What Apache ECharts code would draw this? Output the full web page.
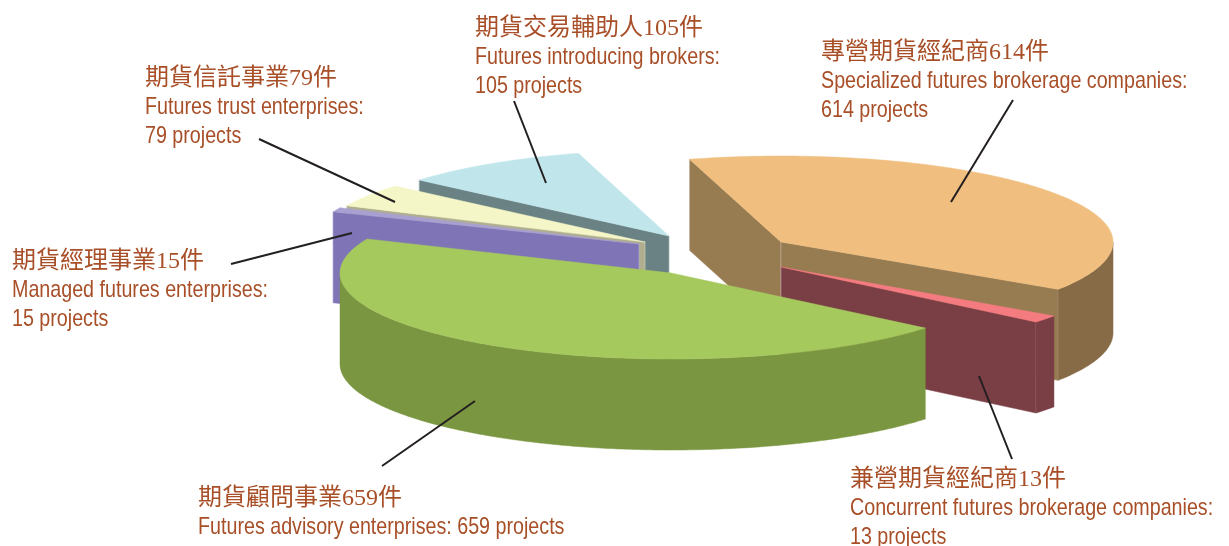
<!DOCTYPE html>
<html>
<head>
<meta charset="utf-8">
<style>html,body{margin:0;padding:0;background:#fff}#c{width:1229px;height:546px}</style>
<script src="https://cdn.jsdelivr.net/npm/echarts@6/dist/echarts.min.js"></script>
</head>
<body>
<div id="c"></div>
<script>
// ---- data ----
const categories = ['專營期貨經紀商', '兼營期貨經紀商', '期貨顧問事業', '期貨經理事業', '期貨信託事業', '期貨交易輔助人'];
const englishNames = [
  'Specialized futures brokerage companies:',
  'Concurrent futures brokerage companies:',
  'Futures advisory enterprises:',
  'Managed futures enterprises:',
  'Futures trust enterprises:',
  'Futures introducing brokers:'
];
const values = [614, 13, 659, 15, 79, 105];

// ---- styling / layout of the exploded 3D pie ----
const topColors  = ['#F0BE7E', '#F47C80', '#A6C95E', '#A8A0D0', '#F4F6C8', '#C0E6EC'];
const wallColors = ['#977B51', '#7A3F44', '#7B9640', '#7E74B6', '#B0AE8E', '#6A8284'];
const rimColors  = ['#866B46', '#7A3F44', '#7B9640', '#7E74B6', '#B0AE8E', '#6A8284'];
const apexX  = [781, 781, 671, 639, 645, 669];
const apexY  = [242, 267, 273, 244, 242, 236];
const radiusX = [332, 332, 331, 330, 329, 329];
const startDeg = [106, -34.7, -39.8, -202, -205, -220.6];
const sweepScale = [0.9365, 1.619, 1.0234, 0.824, 0.815, 1.312];
const drawOrder = [5, 4, 3, 0, 1, 2];
const radiusY = 86, depth = 91;
const labelX = [821, 850, 198, 12, 145, 475];
const labelY = [53, 480, 499, 262, 79, 29];
const leaderX = [[1013, 951], [1012, 979], [382, 475], [231, 352], [259, 395], [514, 546]];
const leaderY = [[100, 202], [459, 376], [466, 401], [264, 233], [139, 202], [101, 183]];
const textColor = '#A84F28';
const narrowScale = 0.82;
const latinShift = -1;
const cjkFont = '24px "Liberation Serif","Noto Sans CJK TC"';
const latinFont = '24px "Liberation Sans"';
const total = values.reduce((a, b) => a + b, 0);

function renderSlice(params, api) {
  const i = api.value(0), v = api.value(1);
  const s = startDeg[i], sweep = v / total * 360 * sweepScale[i], e = s - sweep;
  const cx = apexX[i], cy = apexY[i], a = radiusX[i];
  const pt = (deg, dz) => [cx + a * Math.cos(deg * Math.PI / 180), cy - radiusY * Math.sin(deg * Math.PI / 180) + (dz || 0)];
  const children = [];
  const poly = (points, fill) => children.push({ type: 'polygon', shape: { points }, style: { fill, stroke: fill, lineWidth: 0.5 } });
  const edge = (p) => children.push({ type: 'line', shape: { x1: p[0], y1: p[1], x2: p[0], y2: p[1] + depth }, style: { stroke: 'rgba(255,255,255,0.28)', lineWidth: 1 } });
  const wall = (deg) => {
    const p = pt(deg), q = pt(deg, depth);
    poly([[cx, cy], p, q, [cx, cy + depth]], wallColors[i]);
    edge([cx, cy]); edge(p);
  };
  const cos = (d) => Math.cos(d * Math.PI / 180);
  if (cos(s) < 0) wall(s);
  if (cos(e) > 0) wall(e);
  // outer rim: only the lower half of the ellipse faces the viewer
  const upper = [], lower = [];
  for (let k = 0; k <= 240; k++) {
    const d = s - sweep * k / 240;
    if (Math.sin(d * Math.PI / 180) <= 0.0001) { upper.push(pt(d)); lower.unshift(pt(d, depth)); }
  }
  if (upper.length > 1) poly(upper.concat(lower), rimColors[i]);
  // top face
  const top = [[cx, cy]];
  for (let k = 0; k <= 240; k++) top.push(pt(s - sweep * k / 240));
  poly(top, topColors[i]);
  return { type: 'group', children };
}

const graphics = [];
categories.forEach((name, i) => {
  const isAdvisory = i === 2;
  const latin = isAdvisory ? englishNames[i] + ' ' + values[i] + ' projects' : englishNames[i];
  const lines = [
    { t: name + values[i] + '件', f: cjkFont, sx: 1, dy: 0 },
    { t: latin, f: latinFont, sx: narrowScale, dy: latinShift }
  ];
  if (!isAdvisory) lines.push({ t: values[i] + ' projects', f: latinFont, sx: narrowScale, dy: latinShift });
  lines.forEach((l, k) => graphics.push({
    type: 'text', silent: true, z: 10,
    x: labelX[i], y: labelY[i] + k * 29 + l.dy, scaleX: l.sx,
    style: { text: l.t, font: l.f, fill: textColor, textAlign: 'left', textVerticalAlign: 'middle' }
  }));
  graphics.push({
    type: 'line', silent: true, z: 11,
    shape: { x1: leaderX[i][0], y1: leaderY[i][0], x2: leaderX[i][1], y2: leaderY[i][1] },
    style: { stroke: '#231F20', lineWidth: 2 }
  });
});

const chart = echarts.init(document.getElementById('c'), null, { renderer: 'canvas' });
chart.setOption({
  animation: false,
  backgroundColor: '#ffffff',
  series: [{
    type: 'custom',
    coordinateSystem: 'none',
    silent: true,
    clip: false,
    renderItem: renderSlice,
    data: drawOrder.map(i => [i, values[i]])
  }],
  graphic: { elements: graphics }
});
</script>
</body>
</html>
